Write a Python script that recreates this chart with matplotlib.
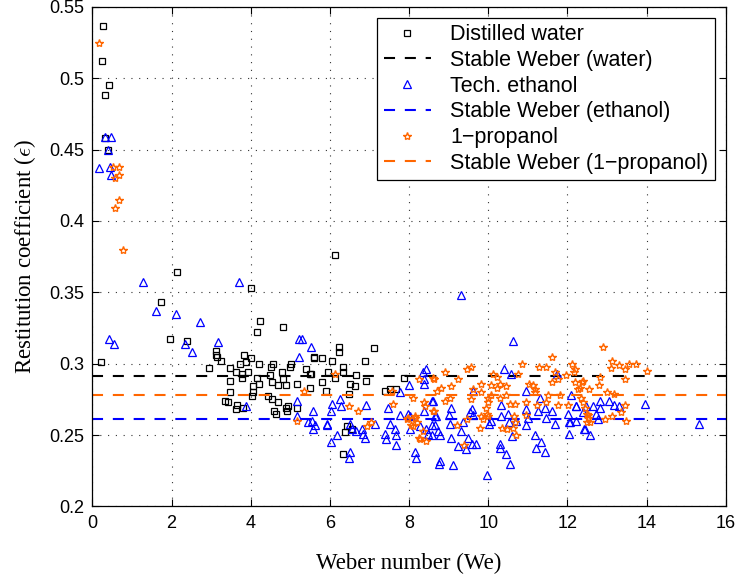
import matplotlib

matplotlib.use("Agg")
import matplotlib.pyplot as plt
from matplotlib.ticker import FixedLocator

# restitution data: (We, epsilon)
water_we = [
    0.21, 0.24, 0.28, 0.31, 0.43, 0.32, 0.39,
    1.73, 1.95, 2.15, 2.38, 4.02, 4.23, 4.17, 4.82,
    3.12, 3.12, 3.14, 3.26, 3.83, 3.89, 4.00, 4.20, 4.56, 4.52, 4.99, 2.95, 3.47, 3.72, 3.78,
    3.64, 3.77, 3.93, 4.16, 4.20, 4.05, 4.48, 4.53, 4.79, 4.82, 4.70, 3.47, 4.06, 4.04, 4.43,
    4.54, 4.68, 3.47, 3.42, 3.36, 3.66, 3.62, 3.81, 4.60, 4.63, 4.95, 5.17, 5.17, 5.50, 5.39,
    5.49, 5.61, 5.02,
    6.12, 6.23, 6.24, 7.12, 5.60, 5.79, 6.05, 6.34, 6.34, 6.90, 5.52, 5.96, 6.65, 7.88, 6.12,
    6.91, 6.50, 5.80, 6.63, 5.91, 6.48, 7.39, 7.68, 7.51, 6.43, 6.55, 6.33, 6.39, 4.90, 4.91,
    4.89,
]
water_eps = [
    0.301, 0.512, 0.537, 0.488, 0.495, 0.458, 0.450,
    0.343, 0.317, 0.364, 0.316, 0.353, 0.330, 0.322, 0.326,
    0.309, 0.306, 0.305, 0.302, 0.306, 0.301, 0.304, 0.300, 0.300, 0.298, 0.298, 0.297, 0.297, 0.300, 0.293,
    0.294, 0.290, 0.294, 0.290, 0.286, 0.284, 0.292, 0.287, 0.294, 0.289, 0.285, 0.288, 0.280, 0.277, 0.277,
    0.275, 0.273, 0.280, 0.273, 0.274, 0.271, 0.268, 0.269, 0.267, 0.265, 0.270, 0.269, 0.286, 0.283, 0.296,
    0.293, 0.304, 0.300,
    0.376, 0.312, 0.308, 0.311, 0.305, 0.304, 0.302, 0.298, 0.294, 0.302, 0.293, 0.294, 0.292, 0.290, 0.290,
    0.288, 0.286, 0.287, 0.284, 0.281, 0.279, 0.281, 0.282, 0.282, 0.256, 0.254, 0.237, 0.252, 0.269, 0.267,
    0.285,
]

ethanol_we = [
    0.16, 0.33, 0.46, 0.40, 0.44, 0.46, 0.42, 0.54,
    1.27, 1.62, 2.11, 2.72, 2.34, 2.52, 3.17, 3.70, 3.88,
    5.22, 5.29, 5.53, 5.22, 5.16, 5.16, 5.45, 5.58, 5.58, 5.62, 5.94, 6.02, 6.06, 6.25, 6.29,
    6.17, 6.02, 6.50, 6.55, 6.52, 6.48, 6.65, 6.84, 6.88, 6.92, 7.13, 7.47, 7.51, 7.39, 7.41,
    7.64, 7.66, 7.68, 7.77, 7.97, 8.00, 8.02, 8.16, 8.17, 8.35, 8.37, 8.38, 8.37, 8.44, 8.57,
    8.59, 8.65, 8.76, 8.44, 7.77, 8.02, 8.27, 8.48, 8.65, 5.54, 5.93, 6.80,
    9.31, 10.63, 10.40, 10.57, 11.74, 9.62, 10.95, 11.32, 8.61, 9.60, 9.05, 10.33, 10.95, 11.43,
    11.60, 12.02, 12.23, 8.69, 9.01, 9.53, 9.62, 10.06, 10.02, 10.33, 10.50, 10.52, 10.71, 11.00,
    11.26, 11.47, 11.68, 12.04, 12.23, 12.44, 8.57, 8.78, 9.07, 9.32, 9.49, 9.24, 9.43, 9.60,
    9.70, 10.29, 10.31, 10.44, 10.59, 10.56, 9.97, 11.17, 11.22, 11.34, 11.43, 8.79, 9.10, 10.96,
    12.04, 8.73, 9.03, 9.36,
    12.83, 13.05, 13.19, 13.30, 13.95, 12.21, 12.46, 12.65, 12.82, 12.39, 12.73, 12.06, 12.77,
    12.41, 12.58, 15.32, 12.10,
]
ethanol_eps = [
    0.437, 0.459, 0.459, 0.450, 0.438, 0.432, 0.317, 0.314,
    0.357, 0.337, 0.335, 0.329, 0.314, 0.308, 0.315, 0.357, 0.270,
    0.317, 0.317, 0.312, 0.305, 0.274, 0.263, 0.259, 0.267, 0.254, 0.257, 0.258, 0.267, 0.272, 0.275, 0.270,
    0.250, 0.245, 0.258, 0.254, 0.238, 0.234, 0.253, 0.251, 0.248, 0.271, 0.258, 0.269, 0.258, 0.251, 0.247,
    0.254, 0.250, 0.243, 0.264, 0.265, 0.285, 0.254, 0.238, 0.234, 0.294, 0.289, 0.286, 0.267, 0.254, 0.250,
    0.274, 0.257, 0.230, 0.296, 0.280, 0.263, 0.256, 0.251, 0.263, 0.260, 0.257, 0.254,
    0.348, 0.316, 0.296, 0.293, 0.293, 0.281, 0.281, 0.276, 0.274, 0.268, 0.269, 0.271, 0.268, 0.269,
    0.267, 0.265, 0.270, 0.263, 0.264, 0.266, 0.264, 0.260, 0.258, 0.263, 0.265, 0.259, 0.260, 0.262,
    0.267, 0.262, 0.258, 0.259, 0.260, 0.254, 0.257, 0.250, 0.248, 0.253, 0.248, 0.242, 0.240, 0.244,
    0.244, 0.244, 0.241, 0.237, 0.249, 0.230, 0.222, 0.250, 0.241, 0.245, 0.238, 0.232, 0.229, 0.257,
    0.251, 0.253, 0.258, 0.259,
    0.274, 0.274, 0.271, 0.270, 0.272, 0.270, 0.270, 0.270, 0.269, 0.266, 0.265, 0.259, 0.261,
    0.254, 0.250, 0.258, 0.278,
]

propanol_we = [
    0.16, 0.53, 0.68, 0.68, 0.57, 0.67, 0.58, 0.78,
    5.17, 5.34, 6.12, 6.48, 6.71, 6.95, 7.03, 7.60, 7.56, 7.95, 8.09, 8.16, 8.19, 8.10, 8.37,
    8.41, 8.35, 8.27, 8.44, 8.61, 8.62, 8.71, 8.25, 7.97, 8.14, 8.06, 8.25, 8.61,
    11.62, 10.86, 11.28, 11.47, 12.12, 12.20, 11.70, 9.57, 9.47, 8.91, 10.12, 10.21, 10.75, 11.97,
    9.24, 11.61, 12.20, 12.39, 9.83, 10.06, 10.31, 10.46, 11.02, 11.13, 11.76, 9.05, 8.82, 9.62,
    9.83, 10.06, 10.21, 10.46, 11.17, 11.19, 11.51, 11.82, 12.27, 12.35, 9.03, 8.90, 10.00, 10.29,
    10.00, 10.54, 10.67, 10.96, 11.23, 11.47, 11.76, 12.02, 12.39, 9.57, 8.62, 9.95, 9.97, 10.00,
    9.83, 9.87, 9.79, 9.46, 9.21, 10.64, 10.67, 10.36, 10.47, 10.63, 10.69, 10.96, 12.49, 12.49,
    9.38,
    12.90, 13.14, 13.30, 13.56, 13.74, 14.01, 13.11, 13.45, 13.45, 12.16, 12.83, 12.80, 12.38,
    12.31, 12.55, 13.01, 13.19, 12.44, 12.53, 12.53, 12.58, 12.94, 13.13, 13.35, 13.46, 13.49,
]
propanol_eps = [
    0.525, 0.438, 0.438, 0.432, 0.430, 0.415, 0.409, 0.380,
    0.260, 0.281, 0.293, 0.270, 0.267, 0.256, 0.259, 0.272, 0.281, 0.261, 0.276, 0.262, 0.259, 0.256, 0.273,
    0.270, 0.253, 0.247, 0.246, 0.267, 0.289, 0.281, 0.289, 0.262, 0.263, 0.257, 0.248, 0.290,
    0.305, 0.300, 0.298, 0.298, 0.300, 0.296, 0.294, 0.298, 0.296, 0.294, 0.293, 0.291, 0.293, 0.292,
    0.289, 0.287, 0.287, 0.288, 0.286, 0.285, 0.286, 0.284, 0.286, 0.285, 0.289, 0.284, 0.283, 0.282,
    0.280, 0.278, 0.283, 0.278, 0.282, 0.280, 0.278, 0.278, 0.282, 0.276, 0.276, 0.274, 0.276, 0.276,
    0.273, 0.272, 0.272, 0.273, 0.271, 0.273, 0.271, 0.271, 0.273, 0.275, 0.267, 0.269, 0.265, 0.263,
    0.263, 0.261, 0.255, 0.261, 0.257, 0.263, 0.259, 0.255, 0.254, 0.255, 0.250, 0.264, 0.265, 0.259,
    0.243,
    0.312, 0.302, 0.299, 0.300, 0.300, 0.295, 0.297, 0.296, 0.289, 0.294, 0.291, 0.285, 0.287,
    0.283, 0.282, 0.280, 0.279, 0.269, 0.264, 0.262, 0.259, 0.261, 0.263, 0.266, 0.271, 0.260,
]

# stable Weber reference levels
stable_water = 0.2915
stable_ethanol = 0.2609
stable_propanol = 0.2782

x_ticks = [0, 2, 4, 6, 8, 10, 12, 14, 16]
y_ticks = [0.2, 0.25, 0.3, 0.35, 0.4, 0.45, 0.5, 0.55]
y_tick_labels = ["0.2", "0.25", "0.3", "0.35", "0.4", "0.45", "0.5", "0.55"]

BLACK = "#000000"
BLUE = "#0000FF"
ORANGE = "#FF6600"

plt.rcParams["font.family"] = ["Liberation Sans", "DejaVu Sans"]
plt.rcParams["mathtext.fontset"] = "cm"

fig = plt.figure(figsize=(7.39, 5.80), dpi=100)
ax = fig.add_axes([0.125, 0.127, 0.857, 0.861])

dash = (5.3, 4.7)
ax.plot(water_we, water_eps, ls="none", marker="s", ms=5, mfc="none", mec=BLACK, mew=0.9,
        label="Distilled water")
ax.axhline(stable_water, color=BLACK, lw=1.5, dashes=dash, label="Stable Weber (water)")
ax.plot(ethanol_we, ethanol_eps, ls="none", marker="^", ms=6, mfc="none", mec=BLUE, mew=0.9,
        label="Tech. ethanol")
ax.axhline(stable_ethanol, color=BLUE, lw=1.5, dashes=dash, label="Stable Weber (ethanol)")
ax.plot(propanol_we, propanol_eps, ls="none", marker="*", ms=6, mfc="none", mec=ORANGE, mew=1.0,
        label="1\u2212propanol")
ax.axhline(stable_propanol, color=ORANGE, lw=1.5, dashes=dash, label="Stable Weber (1\u2212propanol)")

ax.set_xlim(0, 16)
ax.set_ylim(0.2, 0.55)
ax.xaxis.set_major_locator(FixedLocator(x_ticks))
ax.set_yticks(y_ticks)
ax.set_yticklabels(y_tick_labels)
ax.tick_params(direction="in", top=True, right=True, length=5, width=0.8, labelsize=13, pad=6)
ax.grid(True, color="0.2", lw=0.8, linestyle=(0, (1, 6)))
for sp in ax.spines.values():
    sp.set_linewidth(0.9)

serif = ["Liberation Serif", "DejaVu Serif"]
ax.set_xlabel("Weber number (We)", fontsize=16.5, family=serif, labelpad=15)
ax.set_ylabel(r"Restitution coefficient ($\epsilon$)", fontsize=16.5, family=serif, labelpad=8)

leg = ax.legend(loc="upper right", fontsize=15.5, frameon=True, fancybox=False, framealpha=1,
                edgecolor=BLACK, borderaxespad=0.5, handlelength=2.2, handletextpad=0.9,
                labelspacing=0.22, borderpad=0.3)
leg.get_frame().set_linewidth(0.9)

fig.savefig("out.png", dpi=100)
